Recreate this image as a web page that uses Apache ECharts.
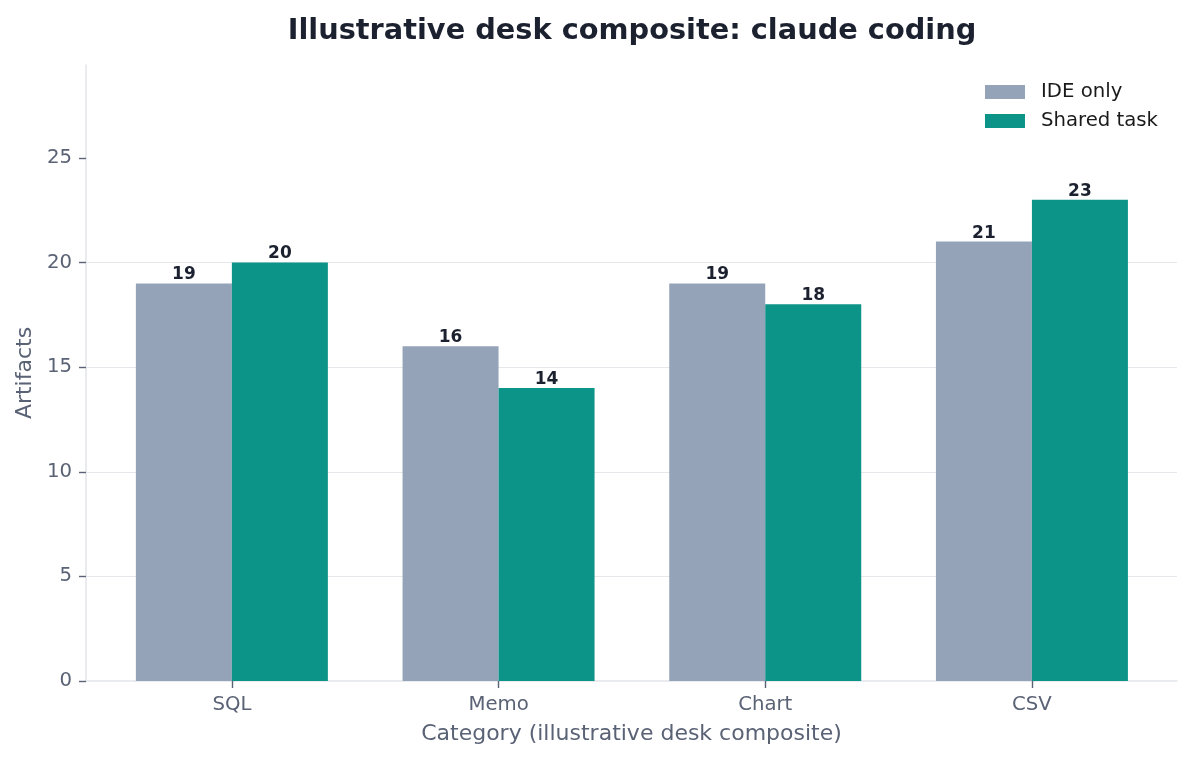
<!DOCTYPE html>
<html>
<head>
<meta charset="utf-8">
<script src="https://cdn.jsdelivr.net/npm/echarts@6/dist/echarts.min.js"></script>
<style>
	html, body { margin: 0; padding: 0; background: #fff; }
	#chart { width: 1193px; height: 760px; }
</style>
</head>
<body>
<div id="chart"></div>
<script>
// chart data
var categories = ['SQL', 'Memo', 'Chart', 'CSV'];
var ideOnly = [19, 16, 19, 21];
var sharedTask = [20, 14, 18, 23];
var yTicks = [0, 5, 10, 15, 20, 25];

function toPoints(values){
	var out = [];
	for (var i = 0; i < values.length; i++) {
		out.push([i, values[i]]);
	}
	return out;
}

function initChart(){
	var dom = document.getElementById('chart');
	var myChart = echarts.init(dom, null, { renderer: 'canvas' });
	var font = 'DejaVu Sans';
	var idx = [];
	for (var i = 0; i < categories.length; i++) idx.push(i);

	var labelStyle = {
		show: true,
		position: 'top',
		distance: 0,
		fontFamily: font,
		fontSize: 17,
		fontWeight: 'bold',
		color: '#1c2130'
	};

	var option = {
		animation: false,
		title: {
			text: 'Illustrative desk composite: claude coding',
			left: 627,
			textAlign: 'center',
			top: 12,
			textStyle: { fontFamily: font, fontSize: 28.8, fontWeight: 'bold', color: '#1c2130' }
		},
		legend: {
			orient: 'vertical',
			right: 30,
			top: 77,
			itemWidth: 40,
			itemHeight: 14,
			itemGap: 9,
			icon: 'rect',
			textStyle: { fontFamily: font, fontSize: 19.7, color: '#1a1a1a', padding: [0, 0, 0, 11] },
			data: ['IDE only', 'Shared task']
		},
		grid: { left: 86, right: 16, top: 65, bottom: 79, containLabel: false },
		xAxis: {
			type: 'value',
			min: -0.547,
			max: 3.544,
			name: 'Category (illustrative desk composite)',
			nameLocation: 'middle',
			nameGap: 42,
			nameTextStyle: { fontFamily: font, fontSize: 22, color: '#5a6275' },
			axisLine: { show: true, onZero: false, lineStyle: { color: '#e2e5ea', width: 1.5 } },
			axisTick: { show: true, customValues: idx, length: 7, lineStyle: { color: '#5a6275', width: 1.4 } },
			axisLabel: {
				customValues: idx,
				margin: 14,
				fontFamily: font, fontSize: 19.7, color: '#5a6275',
				formatter: function(v){ return categories[Math.round(v)]; }
			},
			splitLine: { show: false }
		},
		yAxis: {
			type: 'value',
			min: 0,
			max: 29.44,
			name: 'Artifacts',
			nameLocation: 'middle',
			nameGap: 50,
			nameTextStyle: { fontFamily: font, fontSize: 22, color: '#5a6275' },
			axisLine: { show: true, onZero: false, lineStyle: { color: '#e2e5ea', width: 1.5 } },
			axisTick: { show: true, customValues: yTicks, length: 7, lineStyle: { color: '#5a6275', width: 1.4 } },
			axisLabel: {
				customValues: yTicks,
				margin: 14,
				fontFamily: font, fontSize: 19.7, color: '#5a6275'
			},
			splitLine: { show: true, showMinLine: false, showMaxLine: false, lineStyle: { color: '#e5e7eb', width: 1.2 } }
		},
		series: [
			{
				name: 'IDE only',
				type: 'bar',
				data: toPoints(ideOnly),
				barWidth: 96,
				barGap: '0%',
				itemStyle: { color: '#94a3b8' },
				label: labelStyle
			},
			{
				name: 'Shared task',
				type: 'bar',
				data: toPoints(sharedTask),
				barWidth: 96,
				barGap: '0%',
				itemStyle: { color: '#0d9488' },
				label: labelStyle
			}
		]
	};
	myChart.setOption(option);
}

initChart();
</script>
</body>
</html>
